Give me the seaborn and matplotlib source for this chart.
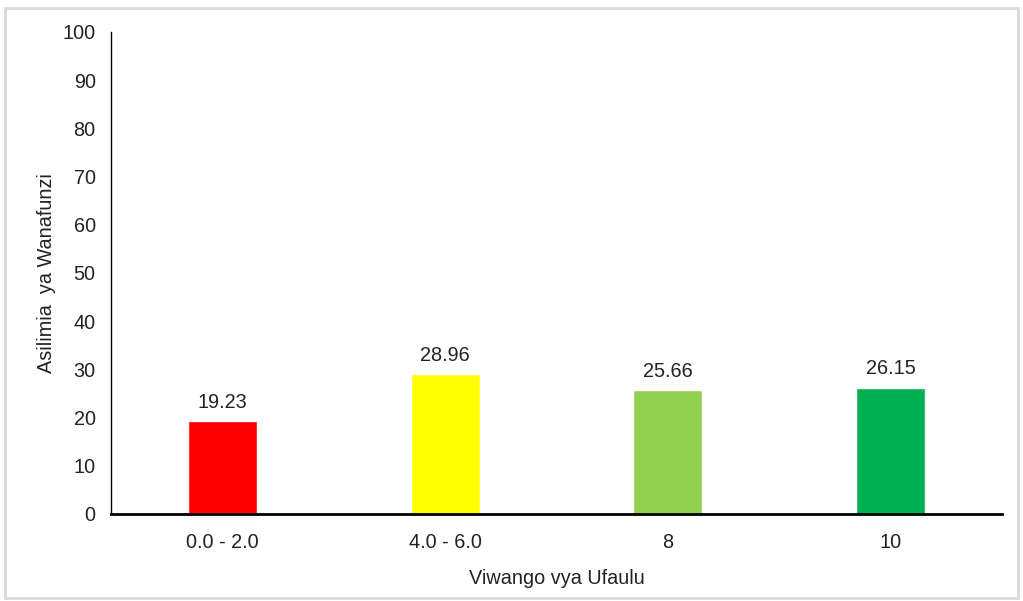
import matplotlib
matplotlib.use("Agg")
import matplotlib.pyplot as plt
import seaborn as sns
import pandas as pd
from matplotlib.patches import Rectangle

categories = ["0.0 - 2.0", "4.0 - 6.0", "8", "10"]
values = [19.23, 28.96, 25.66, 26.15]
colors = ["#FF0000", "#FFFF00", "#92D050", "#00B050"]
yticks = list(range(0, 101, 10))

sns.set_theme(style="white")
plt.rcParams['font.family'] = ['Liberation Sans', 'DejaVu Sans']

df = pd.DataFrame({"cat": categories, "val": values})

fig = plt.figure(figsize=(10.23, 6.01), dpi=100)
ax = fig.add_axes([0.1085, 0.1448, 0.871, 0.802])
sns.barplot(data=df, x="cat", y="val", hue="cat", palette=colors, width=0.31,
            legend=False, ax=ax, saturation=1)

fs = 14.3
ax.set_ylim(0, 100)
ax.set_xlim(-0.5, 3.5)
ax.set_yticks(yticks)
ax.tick_params(axis='both', length=0, labelsize=fs, colors="#222222")
ax.tick_params(axis='y', pad=11)
ax.tick_params(axis='x', pad=14)
for s in ["top", "right"]:
    ax.spines[s].set_visible(False)
ax.spines["left"].set_color("black")
ax.spines["left"].set_linewidth(1.0)
ax.spines["bottom"].set_color("black")
ax.spines["bottom"].set_linewidth(2.0)
ax.set_xlabel("Viwango vya Ufaulu", fontsize=fs, color="#222222", labelpad=12)
ax.set_ylabel("Asilimia  ya Wanafunzi", fontsize=fs, color="#222222", labelpad=5)

for i, v in enumerate(values):
    ax.annotate(f"{v:.2f}", (i, v), xytext=(0, 7), textcoords="offset points",
                ha="center", va="bottom", fontsize=fs, color="#222222")

fig.patches.append(Rectangle((5/1023, 1 - 598/601), 1013/1023, 590/601,
                             transform=fig.transFigure, fill=False,
                             edgecolor="#D9D9D9", linewidth=2))

fig.savefig("out.png", dpi=100)
